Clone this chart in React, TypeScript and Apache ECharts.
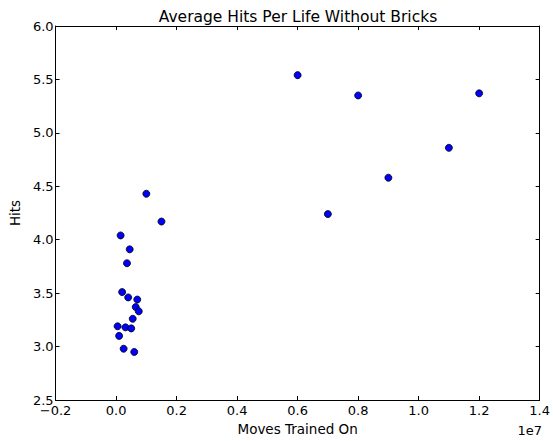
import React, { useEffect, useRef } from "react";
import * as echarts from "echarts";

const movesTrained: number[] = [
  6000000, 8000000, 12000000, 11000000, 9000000, 7000000, 1500000, 1000000,
  150000, 450000, 360000, 200000, 400000, 700000, 650000, 750000, 550000,
  50000, 310000, 500000, 100000, 250000, 600000,
];
const hits: number[] = [
  5.54, 5.35, 5.37, 4.86, 4.58, 4.24, 4.17, 4.43,
  4.04, 3.91, 3.78, 3.51, 3.46, 3.44, 3.37, 3.33, 3.26,
  3.19, 3.18, 3.17, 3.10, 2.98, 2.95,
];

const FONT = "DejaVu Sans";

export default function App() {
  const ref = useRef<HTMLDivElement>(null);
  useEffect(() => {
    if (!ref.current) return;
    const chart = echarts.init(ref.current, null, { renderer: "svg" });
    const data = movesTrained.map((m, i) => [m, hits[i]]);
    const fmtX = (v: number) => (v / 1e7).toFixed(1).replace("-", "\u2212");
    const common = {
      axisLine: { show: true, onZero: false, lineStyle: { color: "#000", width: 1 } },
      axisTick: { show: true, inside: true, length: 4, lineStyle: { color: "#000" } },
      splitLine: { show: false },
    };
    chart.setOption({
      animation: false,
      backgroundColor: "#fff",
      title: {
        text: "Average Hits Per Life Without Bricks",
        left: 293,
        textAlign: "center",
        top: 4,
        textStyle: { fontFamily: FONT, fontSize: 15.5, fontWeight: "normal", color: "#000" },
      },
      grid: { left: 45, right: 11, top: 26, bottom: 32, containLabel: false },
      xAxis: [
        {
          type: "value",
          min: -2000000,
          max: 14000000,
          interval: 2000000,
          position: "bottom",
          name: "Moves Trained On",
          nameLocation: "middle",
          nameGap: 22,
          nameTextStyle: { fontFamily: FONT, fontSize: 13.5, color: "#000" },
          axisLabel: { formatter: fmtX, fontFamily: FONT, fontSize: 13, color: "#000", margin: 4 },
          ...common,
        },
        {
          type: "value",
          min: -2000000,
          max: 14000000,
          interval: 2000000,
          position: "top",
          axisLabel: { show: false },
          ...common,
        },
      ],
      yAxis: [
        {
          type: "value",
          min: 2.5,
          max: 6.0,
          interval: 0.5,
          position: "left",
          name: "Hits",
          nameLocation: "middle",
          nameGap: 29,
          nameTextStyle: { fontFamily: FONT, fontSize: 13.5, color: "#000" },
          axisLabel: { formatter: (v: number) => v.toFixed(1), fontFamily: FONT, fontSize: 13, color: "#000", margin: 2 },
          ...common,
        },
        {
          type: "value",
          min: 2.5,
          max: 6.0,
          interval: 0.5,
          position: "right",
          axisLabel: { show: false },
          ...common,
        },
      ],
      graphic: [
        {
          type: "text",
          right: 11,
          top: 424,
          style: { text: "1e7", fontFamily: FONT, fontSize: 13, fill: "#000" },
        },
      ],
      series: [
        {
          type: "scatter",
          data,
          symbol: "circle",
          symbolSize: 7,
          itemStyle: { color: "#0000ff", borderColor: "#000", borderWidth: 0.8, opacity: 1 },
        },
      ],
    });
    return () => chart.dispose();
  }, []);
  return (
    <div
      ref={ref}
      style={{ position: "fixed", left: 0, top: 0, width: 553, height: 441 }}
    />
  );
}
